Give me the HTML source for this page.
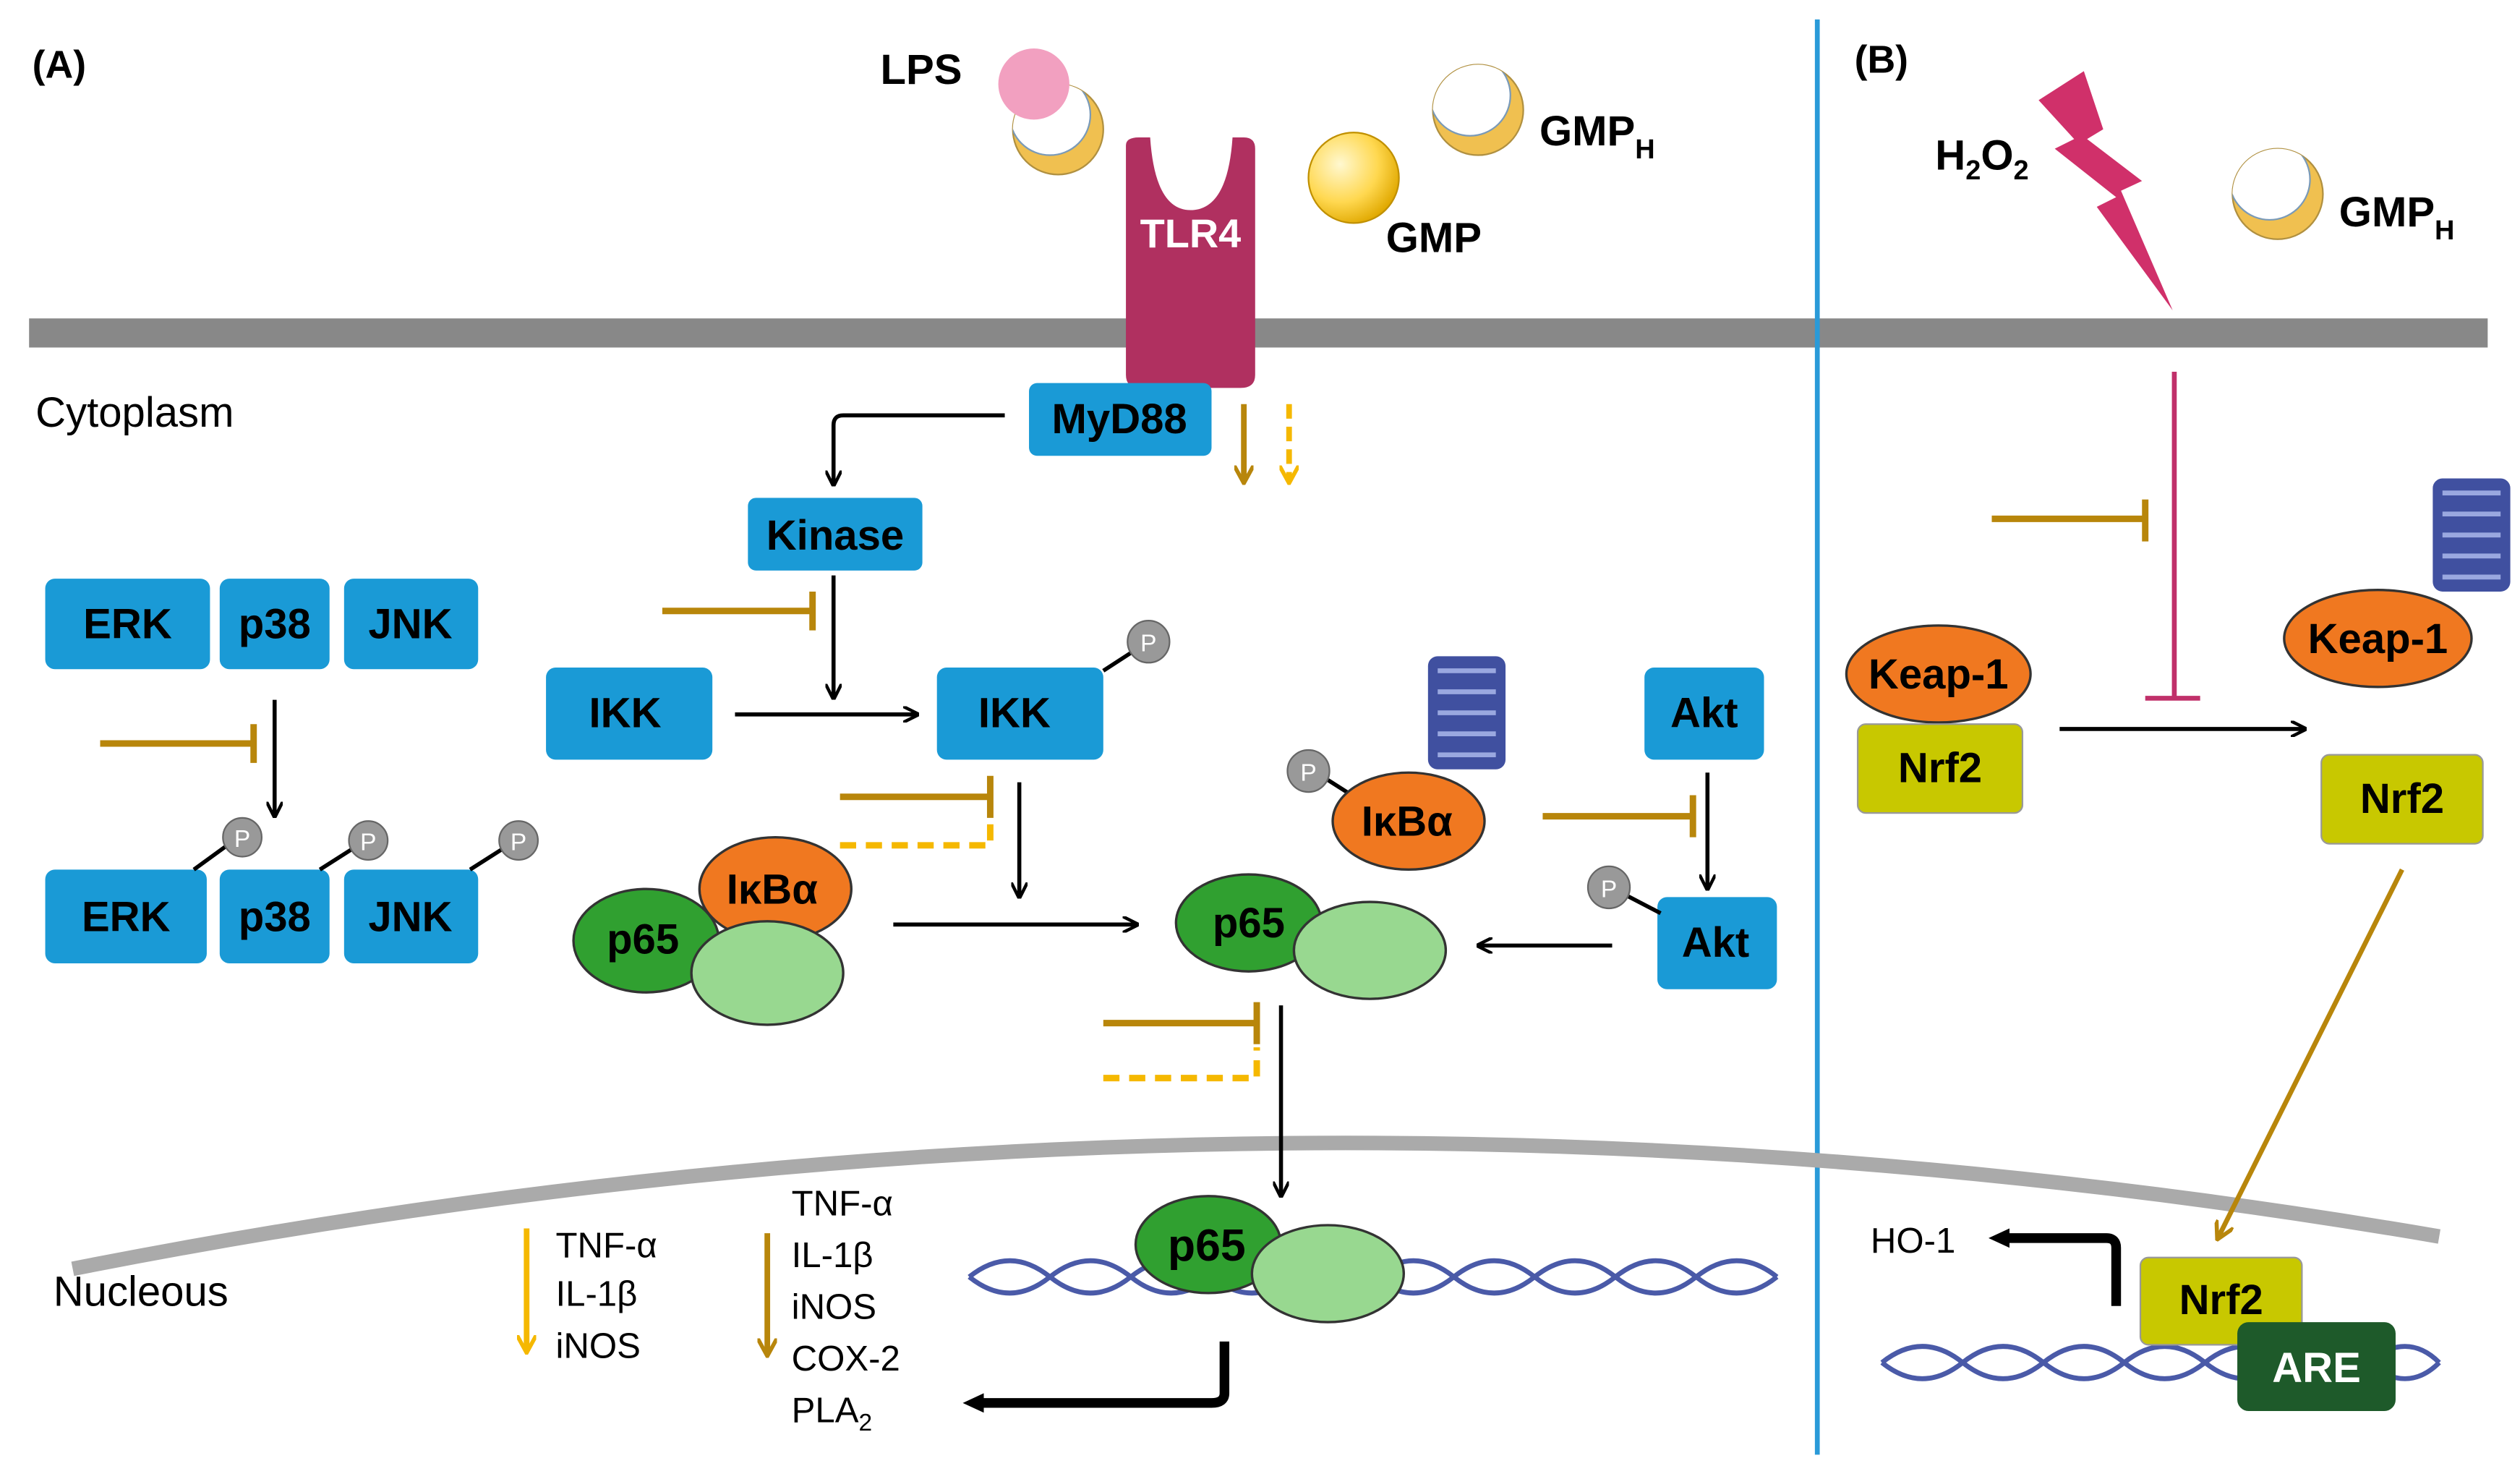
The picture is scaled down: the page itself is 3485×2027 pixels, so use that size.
<!DOCTYPE html>
<html><head><style>html,body{margin:0;padding:0;background:#fff}svg{display:block}</style></head><body>
<svg width="3485" height="2027" viewBox="0 0 1560 907" preserveAspectRatio="none" xmlns="http://www.w3.org/2000/svg" font-family="Liberation Sans, sans-serif">
<defs>
<marker id="ab" markerWidth="10" markerHeight="10" refX="9" refY="5" orient="auto" markerUnits="userSpaceOnUse"><path d="M0,0 L10,5 L0,10" fill="none" stroke="#000" stroke-width="2"/></marker>
<marker id="ag" markerWidth="12" markerHeight="12" refX="10" refY="6" orient="auto" markerUnits="userSpaceOnUse"><path d="M0,0 L11,6 L0,12" fill="none" stroke="#b8860b" stroke-width="2.5"/></marker>
<marker id="ay" markerWidth="12" markerHeight="12" refX="10" refY="6" orient="auto" markerUnits="userSpaceOnUse"><path d="M0,0 L11,6 L0,12" fill="none" stroke="#f5b800" stroke-width="2.5"/></marker>
<marker id="abk" markerWidth="14" markerHeight="14" refX="4" refY="7" orient="auto" markerUnits="userSpaceOnUse"><path d="M0,1 L13,7 L0,13 Z" fill="#000"/></marker>
<radialGradient id="gmp" cx="0.35" cy="0.35" r="0.7"><stop offset="0" stop-color="#fff8d0"/><stop offset="0.6" stop-color="#ffd850"/><stop offset="1" stop-color="#e0a800"/></radialGradient>
<clipPath id="cc"><circle cx="0" cy="0" r="28"/></clipPath>
<g id="cres"><circle cx="0" cy="0" r="28" fill="#f0c050" stroke="#b09040" stroke-width="1"/><circle cx="-5" cy="-9" r="25" fill="#fff" stroke="#7a9ab8" stroke-width="1" clip-path="url(#cc)"/></g>
<g id="mem"><rect x="-24" y="-34" width="48" height="70" rx="6" fill="#4050a0"/><g stroke="#9aa8e0" stroke-width="3"><line x1="-18" y1="-25" x2="18" y2="-25"/><line x1="-18" y1="-12" x2="18" y2="-12"/><line x1="-18" y1="1" x2="18" y2="1"/><line x1="-18" y1="14" x2="18" y2="14"/><line x1="-18" y1="27" x2="18" y2="27"/></g></g>
</defs>
<rect width="1560" height="907" fill="#fff"/>
<rect x="18" y="197" width="1522" height="18" fill="#888"/>
<line x1="1125" y1="12" x2="1125" y2="900" stroke="#2a9ad8" stroke-width="3"/>
<path d="M45,785 Q780,640 1510,765" fill="none" stroke="#aaa" stroke-width="9"/>
<text x="20" y="48" font-size="24" font-weight="bold">(A)</text>
<text x="1148" y="45" font-size="24" font-weight="bold">(B)</text>
<text x="545" y="52" font-size="26" font-weight="bold">LPS</text>
<use href="#cres" x="655" y="80"/>
<circle cx="640" cy="52" r="22" fill="#f2a0c0"/>
<path d="M697,90 Q697,85 705,85 L712,85 Q715,130 737,130 Q760,130 763,85 L770,85 Q777,85 777,92 L777,232 Q777,240 768,240 L706,240 Q697,240 697,232 Z" fill="#b03060"/>
<text x="737" y="153" font-size="25" font-weight="bold" fill="#fff" text-anchor="middle">TLR4</text>
<circle cx="838" cy="110" r="28" fill="url(#gmp)" stroke="#c09000"/>
<text x="858" y="156" font-size="26" font-weight="bold">GMP</text>
<use href="#cres" x="915" y="68"/>
<text x="953" y="90" font-size="26" font-weight="bold">GMP<tspan font-size="17" dy="8">H</tspan></text>
<path d="M1262,62 L1290,44 L1302,80 L1292,86 L1326,112 L1313,118 L1345,192 L1298,128 L1310,122 L1272,92 L1284,86 Z" fill="#d0306a"/>
<text x="1198" y="105" font-size="26" font-weight="bold">H<tspan font-size="17" dy="6">2</tspan><tspan dy="-6">O</tspan><tspan font-size="17" dy="6">2</tspan></text>
<use href="#cres" x="1410" y="120"/>
<text x="1448" y="140" font-size="26" font-weight="bold">GMP<tspan font-size="17" dy="8">H</tspan></text>
<text x="22" y="264" font-size="26">Cytoplasm</text>
<text x="33" y="808" font-size="26">Nucleous</text>
<g font-weight="bold" font-size="26" text-anchor="middle">
<rect x="637" y="237" width="113" height="45" rx="5" fill="#1a9ad6"/><text x="693" y="268">MyD88</text>
<rect x="463" y="308" width="108" height="45" rx="5" fill="#1a9ad6"/><text x="517" y="340">Kinase</text>
<rect x="28" y="358" width="102" height="56" rx="6" fill="#1a9ad6"/><text x="79" y="395">ERK</text>
<rect x="136" y="358" width="68" height="56" rx="6" fill="#1a9ad6"/><text x="170" y="395">p38</text>
<rect x="213" y="358" width="83" height="56" rx="6" fill="#1a9ad6"/><text x="254" y="395">JNK</text>
<rect x="28" y="538" width="100" height="58" rx="6" fill="#1a9ad6"/><text x="78" y="576">ERK</text>
<rect x="136" y="538" width="68" height="58" rx="6" fill="#1a9ad6"/><text x="170" y="576">p38</text>
<rect x="213" y="538" width="83" height="58" rx="6" fill="#1a9ad6"/><text x="254" y="576">JNK</text>
<rect x="338" y="413" width="103" height="57" rx="6" fill="#1a9ad6"/><text x="387" y="450">IKK</text>
<rect x="580" y="413" width="103" height="57" rx="6" fill="#1a9ad6"/><text x="628" y="450">IKK</text>
<rect x="1018" y="413" width="74" height="57" rx="6" fill="#1a9ad6"/><text x="1055" y="450">Akt</text>
<rect x="1026" y="555" width="74" height="57" rx="6" fill="#1a9ad6"/><text x="1062" y="592">Akt</text>
</g>
<g stroke="#000" stroke-width="2.5"><line x1="120" y1="538" x2="142" y2="522"/><line x1="198" y1="538" x2="220" y2="524"/><line x1="291" y1="538" x2="313" y2="524"/><line x1="683" y1="415" x2="703" y2="402"/><line x1="818" y1="480" x2="840" y2="494"/><line x1="1003" y1="552" x2="1028" y2="565"/></g>
<g fill="#999" stroke="#666"><circle cx="150" cy="518" r="12"/><circle cx="228" cy="520" r="12"/><circle cx="321" cy="520" r="12"/><circle cx="711" cy="397" r="13"/><circle cx="810" cy="477" r="13"/><circle cx="996" cy="549" r="13"/></g>
<g fill="#fff" font-size="15" text-anchor="middle"><text x="150" y="524">P</text><text x="228" y="526">P</text><text x="321" y="526">P</text><text x="711" y="403">P</text><text x="810" y="483">P</text><text x="996" y="555">P</text></g>
<g stroke="#000" stroke-width="2.5" fill="none" marker-end="url(#ab)">
<path d="M622,257 L522,257 Q516,257 516,263 L516,300"/>
<line x1="516" y1="356" x2="516" y2="432"/>
<line x1="170" y1="433" x2="170" y2="505"/>
<line x1="455" y1="442" x2="568" y2="442"/>
<line x1="631" y1="484" x2="631" y2="555"/>
<line x1="553" y1="572" x2="704" y2="572"/>
<line x1="1057" y1="478" x2="1057" y2="550"/>
<line x1="998" y1="585" x2="915" y2="585"/>
<line x1="793" y1="622" x2="793" y2="740"/>
<line x1="1275" y1="451" x2="1427" y2="451"/>
</g>
<g stroke="#b8860b" stroke-width="4" fill="none">
<path d="M410,378 L503,378 M503,366 L503,390"/>
<path d="M62,460 L157,460 M157,448 L157,472"/>
<path d="M520,493 L613,493 M613,480 L613,506"/>
<path d="M955,505 L1048,505 M1048,492 L1048,518"/>
<path d="M683,633 L778,633 M778,620 L778,646"/>
<path d="M1233,321 L1328,321 M1328,309 L1328,335"/>
</g>
<g stroke="#f5b800" stroke-width="4" fill="none" stroke-dasharray="10,6">
<path d="M520,523 L613,523 L613,506"/>
<path d="M683,667 L778,667 L778,648"/>
</g>
<line x1="770" y1="250" x2="770" y2="298" stroke="#b8860b" stroke-width="3.5" marker-end="url(#ag)"/>
<line x1="798" y1="250" x2="798" y2="298" stroke="#f5b800" stroke-width="3.5" stroke-dasharray="9,5" marker-end="url(#ay)"/>
<path d="M1346,230 L1346,432 M1328,432 L1362,432" stroke="#c0306a" stroke-width="3" fill="none"/>
<g stroke="#333" stroke-width="1.5">
<ellipse cx="480" cy="550" rx="47" ry="32" fill="#f07820"/>
<ellipse cx="400" cy="582" rx="45" ry="32" fill="#30a030"/>
<ellipse cx="475" cy="602" rx="47" ry="32" fill="#98d890"/>
<ellipse cx="773" cy="571" rx="45" ry="30" fill="#30a030"/>
<ellipse cx="848" cy="588" rx="47" ry="30" fill="#98d890"/>
<ellipse cx="872" cy="508" rx="47" ry="30" fill="#f07820"/>
<ellipse cx="1200" cy="417" rx="57" ry="30" fill="#f07820"/>
<ellipse cx="1472" cy="395" rx="58" ry="30" fill="#f07820"/>
</g>
<use href="#mem" x="908" y="440"/>
<use href="#mem" x="1530" y="330"/>
<g font-weight="bold" font-size="26" text-anchor="middle">
<text x="478" y="559">IκBα</text><text x="398" y="590">p65</text><text x="773" y="580">p65</text><text x="871" y="517">IκBα</text>
<text x="1200" y="426">Keap-1</text><text x="1472" y="404">Keap-1</text>
</g>
<g fill="none" stroke="#4a5aa8" stroke-width="3">
<path d="M600,790 Q625,770 650,790 T700,790 T750,790 T800,790 T850,790 T900,790 T950,790 T1000,790 T1050,790 T1100,790"/>
<path d="M600,790 Q625,810 650,790 T700,790 T750,790 T800,790 T850,790 T900,790 T950,790 T1000,790 T1050,790 T1100,790"/>
<path d="M1165,843 Q1190,823 1215,843 T1265,843 T1315,843 T1365,843 T1415,843 T1465,843 T1510,843"/>
<path d="M1165,843 Q1190,863 1215,843 T1265,843 T1315,843 T1365,843 T1415,843 T1465,843 T1510,843"/>
</g>
<g stroke="#333" stroke-width="1.5"><ellipse cx="748" cy="770" rx="45" ry="30" fill="#30a030"/><ellipse cx="822" cy="788" rx="47" ry="30" fill="#98d890"/></g>
<text x="747" y="780" font-size="28" font-weight="bold" text-anchor="middle">p65</text>
<path d="M758,830 L758,862 Q758,868 750,868 L605,868" stroke="#000" stroke-width="6" fill="none" marker-end="url(#abk)"/>
<line x1="326" y1="760" x2="326" y2="836" stroke="#f5b800" stroke-width="3.5" marker-end="url(#ay)"/>
<line x1="475" y1="763" x2="475" y2="838" stroke="#b8860b" stroke-width="3.5" marker-end="url(#ag)"/>
<g font-size="22"><text x="344" y="778">TNF-α</text><text x="344" y="808">IL-1β</text><text x="344" y="840">iNOS</text>
<text x="490" y="752">TNF-α</text><text x="490" y="784">IL-1β</text><text x="490" y="816">iNOS</text><text x="490" y="848">COX-2</text><text x="490" y="880">PLA<tspan font-size="15" dy="5">2</tspan></text></g>
<g font-weight="bold" font-size="26" text-anchor="middle">
<rect x="1150" y="448" width="102" height="55" rx="5" fill="#c8c800" stroke="#999"/><text x="1201" y="484">Nrf2</text>
<rect x="1437" y="467" width="100" height="55" rx="5" fill="#c8c800" stroke="#999"/><text x="1487" y="503">Nrf2</text>
<rect x="1325" y="778" width="100" height="54" rx="5" fill="#c8c800" stroke="#999"/><text x="1375" y="813">Nrf2</text>
<rect x="1385" y="818" width="98" height="55" rx="7" fill="#1e5a2a"/><text x="1434" y="855" fill="#fff">ARE</text>
</g>
<line x1="1487" y1="538" x2="1373" y2="766" stroke="#b8860b" stroke-width="3" marker-end="url(#ag)"/>
<path d="M1310,808 L1310,772 Q1310,766 1304,766 L1240,766" stroke="#000" stroke-width="6" fill="none" marker-end="url(#abk)"/>
<text x="1158" y="775" font-size="22">HO-1</text>
</svg>
</body></html>
